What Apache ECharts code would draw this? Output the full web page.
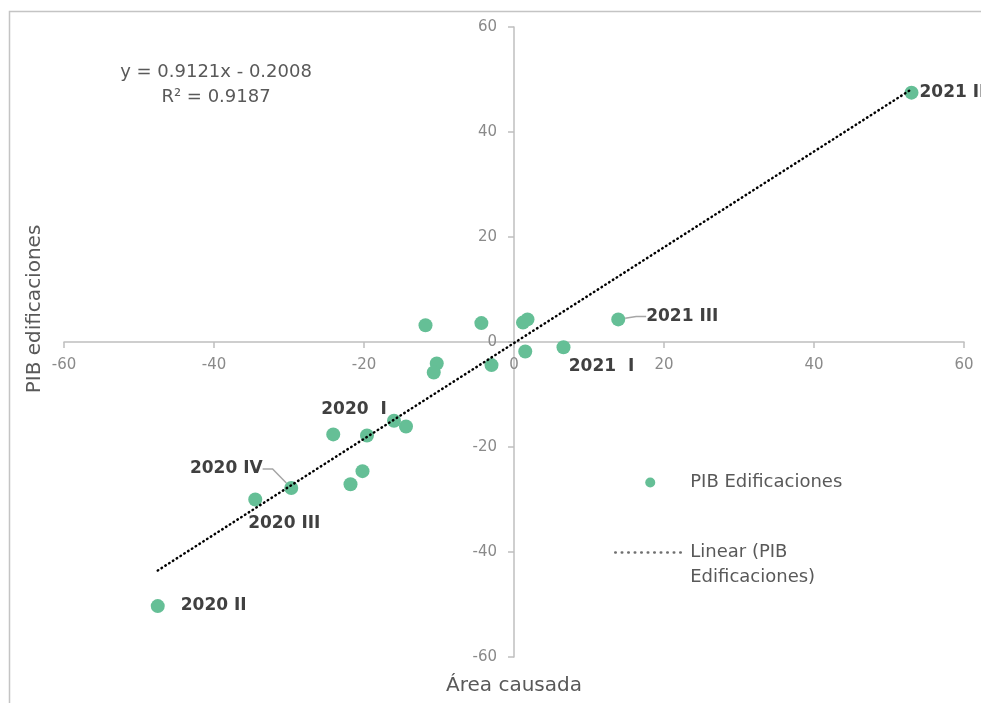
<!DOCTYPE html>
<html>
<head>
<meta charset="utf-8">
<script src="https://cdn.jsdelivr.net/npm/echarts@6/dist/echarts.min.js"></script>
<style>
  html, body { margin: 0; padding: 0; background: #ffffff; }
  #chart { width: 981px; height: 703px; }
</style>
</head>
<body>
<div id="chart"></div>
<script>
// ---- data ----
const areaCausada      = [53.0, 13.9, 6.6, 1.2, 1.8, 1.5, -4.35, -11.8, -3.0, -10.3, -10.7, -16.0, -14.4, -24.1, -19.6, -20.2, -21.8, -29.7, -34.5, -47.5];
const pibEdificaciones = [47.5, 4.3, -1.0, 3.7, 4.3, -1.8, 3.6, 3.2, -4.4, -4.1, -5.8, -15.0, -16.1, -17.6, -17.8, -24.6, -27.1, -27.8, -30.0, -50.3];
const pointLabels      = ['2021 II', '2021 III', '2021  I', '', '', '', '', '', '', '', '', '2020  I', '', '', '', '', '', '2020 IV', '2020 III', '2020 II'];
const trendSlope = 0.9121;
const trendIntercept = -0.2008;
const equationLines = ['y = 0.9121x - 0.2008', 'R² = 0.9187'];
const seriesName = 'PIB Edificaciones';
const trendName = 'Linear (PIB Edificaciones)';
const xAxisTitle = 'Área causada';
const yAxisTitle = 'PIB edificaciones';

// ---- label placement (style only) ----
const labelPlacement = {
  '2021 II':  { position: 'right', distance: 1 },
  '2021 III': { position: 'inside', move: [64, -3], line: true },
  '2021  I':  { position: 'inside', move: [38, 19] },
  '2020  I':  { position: 'inside', move: [-40, -11] },
  '2020 IV':  { position: 'inside', move: [-65, -19], line: true },
  '2020 III': { position: 'inside', move: [29, 24] },
  '2020 II':  { position: 'right', distance: 16 }
};

const FONT = 'DejaVu Sans';
const green = '#65BF96';

const scatterData = areaCausada.map((x, i) => {
  const item = { value: [x, pibEdificaciones[i]] };
  const name = pointLabels[i];
  if (name) {
    const p = labelPlacement[name];
    item.label = {
      show: true,
      formatter: name,
      position: p.position,
      distance: p.distance,
      color: '#404040',
      fontWeight: 'bold',
      fontSize: 17,
      fontFamily: FONT
    };
    item.labelLine = p.line
      ? { show: true, length2: 10, lineStyle: { color: '#a6a6a6', width: 1.5 } }
      : { show: false };
  }
  return item;
});

const xMin = Math.min(...areaCausada);
const xMax = Math.max(...areaCausada);
const trendData = [[xMin, trendSlope * xMin + trendIntercept], [xMax, trendSlope * xMax + trendIntercept]];

const chart = echarts.init(document.getElementById('chart'), null, { renderer: 'canvas' });

const axisCommon = {
  type: 'value',
  min: -60, max: 60, interval: 20,
  splitLine: { show: false },
  axisLine: { show: true, onZero: false, lineStyle: { color: '#bfbfbf', width: 1.5 } },
  axisTick: { show: true, length: 6, lineStyle: { color: '#bfbfbf', width: 1.5 } },
  axisLabel: { color: '#8a8a8a', fontSize: 15, fontFamily: FONT }
};

chart.setOption({
  backgroundColor: '#ffffff',
  animation: false,
  textStyle: { fontFamily: FONT },
  grid: { left: 64, top: 27, width: 900, height: 630, containLabel: false },
  xAxis: Object.assign({}, axisCommon, {
    position: 'bottom',
    offset: -315,
    axisLabel: Object.assign({}, axisCommon.axisLabel, { margin: 16 })
  }),
  yAxis: Object.assign({}, axisCommon, {
    position: 'left',
    offset: -450,
    axisLabel: Object.assign({}, axisCommon.axisLabel, { margin: 17 })
  }),
  legend: {
    orient: 'vertical',
    left: 614, top: 470,
    padding: 0,
    itemWidth: 70, itemHeight: 10, itemGap: 20,
    textStyle: { fontSize: 18, color: '#595959', fontFamily: FONT, lineHeight: 25 },
    formatter: function (n) { return n === trendName ? '\nLinear (PIB\nEdificaciones)' : n; },
    data: [
      { name: seriesName, icon: 'circle', itemStyle: { color: green } },
      { name: trendName,
        itemStyle: { opacity: 0 },
        lineStyle: { color: '#6f6f6f', width: 2.5, type: [0.5, 6], cap: 'round' } }
    ]
  },
  graphic: [
    { type: 'rect', silent: true, z: -10,
      shape: { x: 9.5, y: 11.5, width: 1200, height: 1200 },
      style: { fill: 'none', stroke: '#c4c4c4', lineWidth: 1.5 } },
    { type: 'text', silent: true, x: 216, y: 60,
      style: { text: equationLines.join('\n'), x: 0, y: 0, align: 'center', verticalAlign: 'top',
               fill: '#595959', font: '18px "DejaVu Sans"', lineHeight: 25 } },
    { type: 'text', silent: true, x: 514, y: 686,
      style: { text: xAxisTitle, x: 0, y: 0, align: 'center', verticalAlign: 'middle',
               fill: '#595959', font: '20px "DejaVu Sans"' } },
    { type: 'text', silent: true, rotation: Math.PI / 2, x: 35, y: 309,
      style: { text: yAxisTitle, x: 0, y: 0, align: 'center', verticalAlign: 'middle',
               fill: '#595959', font: '20px "DejaVu Sans"' } }
  ],
  series: [
    {
      name: seriesName,
      type: 'scatter',
      symbol: 'circle',
      symbolSize: 14,
      itemStyle: { color: green, opacity: 1 },
      z: 2,
      data: scatterData,
      labelLayout: function (params) {
        const name = pointLabels[params.dataIndex];
        const p = name && labelPlacement[name];
        if (p && p.move) {
          return { dx: p.move[0], dy: p.move[1] };
        }
        return {};
      }
    },
    {
      name: trendName,
      type: 'line',
      data: trendData,
      symbol: 'none',
      showSymbol: false,
      z: 3,
      itemStyle: { color: '#000000' },
      lineStyle: { color: '#000000', width: 2.5, type: [0.5, 4], cap: 'round' }
    }
  ]
});
</script>
</body>
</html>
